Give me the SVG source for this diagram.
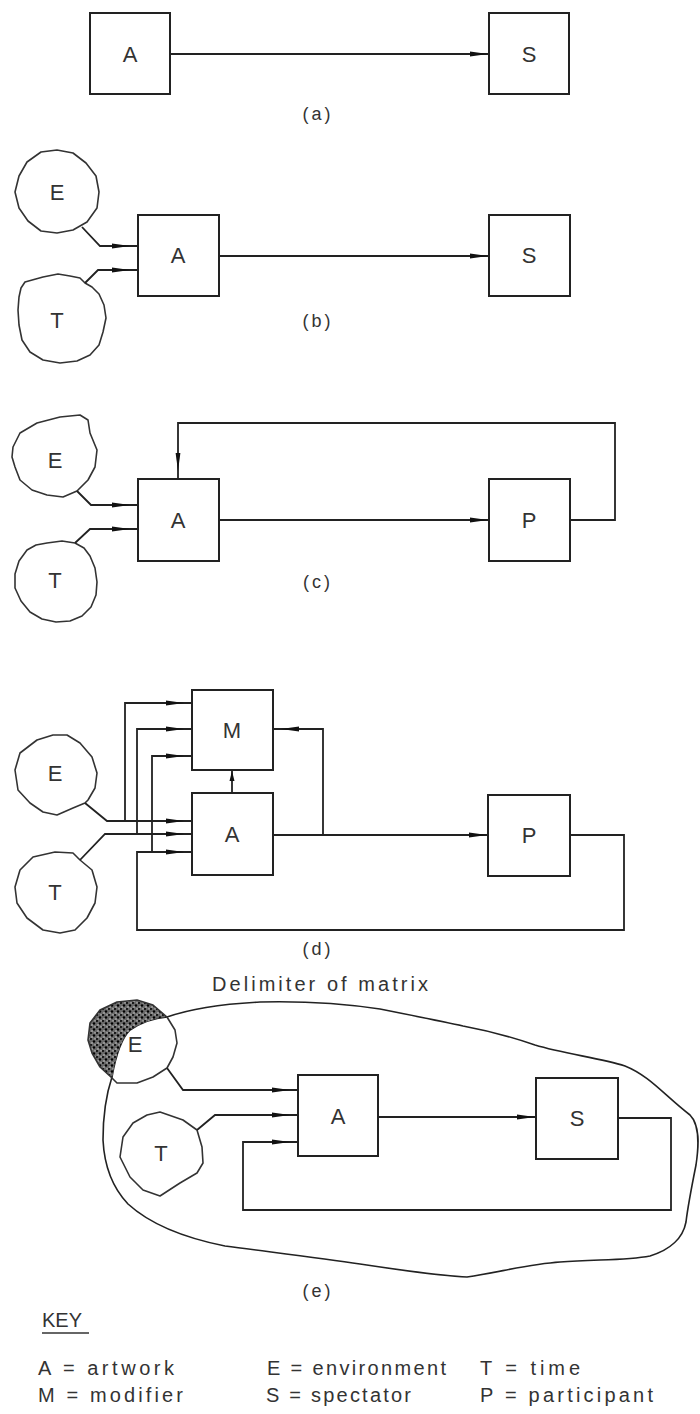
<svg xmlns="http://www.w3.org/2000/svg" width="700" height="1414" viewBox="0 0 700 1414">
<style>
.box{fill:#fff;stroke:#222;stroke-width:2}
.wire{fill:none;stroke:#222;stroke-width:1.8}
.blob{fill:none;stroke:#333;stroke-width:1.6;stroke-linejoin:round}
.lbl{font-family:"Liberation Sans",Arial,sans-serif;font-size:22px;fill:#333;text-anchor:middle}
.cap{font-family:"Liberation Sans",Arial,sans-serif;font-size:18px;fill:#333;text-anchor:middle;letter-spacing:3px}
.key{font-family:"Liberation Sans",Arial,sans-serif;font-size:20px;fill:#333}
</style>
<defs>
<marker id="ah" markerUnits="userSpaceOnUse" markerWidth="20" markerHeight="8" viewBox="0 0 20 8" refX="19" refY="4" orient="auto"><path d="M0,1.6 L18,4 L0,6.4 z" fill="#111"/></marker>
<marker id="ahg" markerUnits="userSpaceOnUse" markerWidth="30" markerHeight="8" viewBox="0 0 30 8" refX="26" refY="4" orient="auto"><path d="M0,1.6 L18,4 L0,6.4 z" fill="#111"/></marker>
<marker id="ahs" markerUnits="userSpaceOnUse" markerWidth="12" markerHeight="8" viewBox="0 0 12 8" refX="11" refY="4" orient="auto"><path d="M0,1.5 L10,4 L0,6.5 z" fill="#111"/></marker>
<pattern id="stip" width="6" height="6" patternUnits="userSpaceOnUse"><rect width="6" height="6" fill="#6a6a6a"/><circle cx="1" cy="1" r="1.1" fill="#111"/><circle cx="4" cy="3.5" r="1.2" fill="#000"/><circle cx="2" cy="5" r="0.7" fill="#ddd"/><circle cx="5" cy="0.8" r="0.6" fill="#eee"/></pattern>
</defs>

<!-- (a) -->
<g id="a-A"><rect class="box" x="90" y="13" width="80" height="81"/><text class="lbl" x="130" y="62">A</text></g>
<g id="a-S"><rect class="box" x="489" y="13" width="80" height="81"/><text class="lbl" x="529" y="62">S</text></g>
<text class="cap" x="318" y="120">(a)</text>

<!-- (b) -->
<g id="b-E"><polygon class="blob" points="99,192 97,208 87,222 73,230 57,233 41,231 28,221 19,208 15,192 19,176 27,162 41,152 57,150 73,153 86,163 96,176"/><text class="lbl" x="57" y="200">E</text></g>
<g id="b-T"><polygon class="blob" points="25,282 43,277 58,274 70,276 80,278 85,283 92,287 99,294 104,305 106,318 103,332 99,345 90,355 77,361 60,363 43,360 30,352 22,340 19,325 18,310 19,297 21,288"/><text class="lbl" x="57" y="328">T</text></g>
<g id="b-A"><rect class="box" x="138" y="215" width="81" height="81"/><text class="lbl" x="178" y="263">A</text></g>
<g id="b-S"><rect class="box" x="489" y="215" width="81" height="81"/><text class="lbl" x="529" y="263">S</text></g>
<text class="cap" x="318" y="327">(b)</text>

<!-- (c) -->
<g id="c-E"><polygon class="blob" points="13,447 20,433 37,423 60,417 80,415 88,420 90,433 97,450 95,467 88,480 77,491 63,497 47,495 32,490 20,480 15,467 12,457"/><text class="lbl" x="55" y="468">E</text></g>
<g id="c-T"><polygon class="blob" points="47,543 62,541 75,543 84,548 90,556 95,568 97,582 96,595 91,607 82,616 70,621 56,622 42,619 30,612 21,601 15,588 15,574 19,561 27,550 36,545"/><text class="lbl" x="55" y="588">T</text></g>
<g id="c-A"><rect class="box" x="138" y="479" width="81" height="82"/><text class="lbl" x="178" y="528">A</text></g>
<g id="c-P"><rect class="box" x="489" y="479" width="81" height="82"/><text class="lbl" x="529" y="528">P</text></g>
<text class="cap" x="318" y="588">(c)</text>

<!-- (d) -->
<g id="d-E"><polygon class="blob" points="15,770 20,753 37,740 53,735 67,735 80,743 92,757 97,773 95,788 88,800 85,803 73,808 57,815 43,812 30,803 18,790"/><text class="lbl" x="55" y="781">E</text></g>
<g id="d-T"><polygon class="blob" points="55,852 73,853 80,860 92,870 97,887 95,903 87,918 75,930 60,933 43,930 27,918 17,903 15,887 20,870 33,857"/><text class="lbl" x="55" y="900">T</text></g>
<g id="d-M"><rect class="box" x="192" y="690" width="81" height="80"/><text class="lbl" x="232" y="738">M</text></g>
<g id="d-A"><rect class="box" x="192" y="793" width="81" height="82"/><text class="lbl" x="232" y="842">A</text></g>
<g id="d-P"><rect class="box" x="488" y="795" width="82" height="81"/><text class="lbl" x="529" y="843">P</text></g>
<text class="cap" x="318" y="955">(d)</text>

<!-- (e) -->
<g id="e-matrix">
<path d="M167,1017 C190,1009 220,1004 260,1002 C300,1001 340,1003 380,1009 C410,1015 440,1021 463,1026 C495,1032 515,1038 535,1045 C565,1054 600,1058 625,1066 C650,1076 665,1096 690,1115 C700,1125 699,1145 696,1165 C692,1185 688,1205 686,1222 C683,1238 670,1250 650,1256 C625,1261 595,1259 560,1262 C530,1264 500,1272 467,1277 C440,1276 400,1270 360,1264 C320,1258 270,1252 225,1246 C185,1238 150,1224 128,1204 C110,1185 104,1160 103,1140 C103,1120 106,1095 112,1077 C115,1060 120,1040 130,1030 C142,1022 155,1018 167,1017 Z" fill="none" stroke="#222" stroke-width="1.6"/>
<text class="key" x="212" y="991" textLength="216" lengthAdjust="spacing">Delimiter of matrix</text>
</g>
<g id="e-E">
<path d="M167,1017 L153,1005 L137,1000 L117,1002 L100,1010 L90,1023 L88,1040 L92,1053 L100,1067 L112,1078 C115,1060 120,1040 130,1030 C142,1022 155,1018 167,1017 Z" fill="url(#stip)" stroke="none"/>
<polygon class="blob" points="137,1000 153,1005 167,1017 175,1030 177,1043 173,1057 167,1068 153,1077 137,1083 117,1083 112,1078 100,1067 92,1053 88,1040 90,1023 100,1010 117,1002"/>
<text class="lbl" x="135" y="1052">E</text>
</g>
<g id="e-T"><polygon class="blob" points="160,1112 183,1120 197,1130 202,1147 203,1163 197,1173 180,1183 160,1196 143,1190 130,1177 120,1157 123,1137 133,1123 147,1115"/><text class="lbl" x="161" y="1161">T</text></g>
<g id="e-A"><rect class="box" x="298" y="1075" width="80" height="81"/><text class="lbl" x="338" y="1124">A</text></g>
<g id="e-S"><rect class="box" x="536" y="1078" width="82" height="81"/><text class="lbl" x="577" y="1126">S</text></g>
<text class="cap" x="318" y="1297">(e)</text>

<!-- connectors -->
<g id="connectors">
<path class="wire" d="M170,54 H489" marker-end="url(#ah)"/>
<path class="wire" d="M219,256 H489" marker-end="url(#ah)"/>
<path class="wire" d="M82,227 L100,246 H138" marker-end="url(#ahg)"/>
<path class="wire" d="M85,283 L98,270 H138" marker-end="url(#ahg)"/>
<path class="wire" d="M219,520 H489" marker-end="url(#ah)"/>
<path class="wire" d="M570,520 H615 V423 H178 V479" marker-end="url(#ahg)"/>
<path class="wire" d="M77,491 L91,505 H138" marker-end="url(#ahg)"/>
<path class="wire" d="M75,543 L90,529 H138" marker-end="url(#ahg)"/>
<path class="wire" d="M85,803 L107,821 H192" marker-end="url(#ahg)"/>
<path class="wire" d="M125,821 V703 H192" marker-end="url(#ahg)"/>
<path class="wire" d="M80,860 L105,834 H192" marker-end="url(#ahg)"/>
<path class="wire" d="M137,834 V729 H192" marker-end="url(#ahg)"/>
<path class="wire" d="M570,835 H624 V930 H137 V852 H192" marker-end="url(#ahg)"/>
<path class="wire" d="M152,852 V756 H192" marker-end="url(#ahg)"/>
<path class="wire" d="M273,835 H488" marker-end="url(#ah)"/>
<path class="wire" d="M323,835 V729 H273" marker-end="url(#ahg)"/>
<path class="wire" d="M232,793 V770" marker-end="url(#ahs)"/>
<path class="wire" d="M167,1068 L183,1090 H298" marker-end="url(#ahg)"/>
<path class="wire" d="M197,1130 L215,1115 H298" marker-end="url(#ahg)"/>
<path class="wire" d="M618,1118 H671 V1210 H243 V1142 H298" marker-end="url(#ahg)"/>
<path class="wire" d="M378,1117 H536" marker-end="url(#ah)"/>
</g>

<!-- key -->
<g id="key">
<text class="key" x="42" y="1327">KEY</text>
<line x1="42" y1="1333" x2="89" y2="1333" stroke="#333" stroke-width="1.5"/>
<text class="key" x="38" y="1375" textLength="136" lengthAdjust="spacing">A = artwork</text>
<text class="key" x="267" y="1375" textLength="179" lengthAdjust="spacing">E = environment</text>
<text class="key" x="480" y="1375" textLength="100" lengthAdjust="spacing">T = time</text>
<text class="key" x="38" y="1402" textLength="145" lengthAdjust="spacing">M = modifier</text>
<text class="key" x="266" y="1402" textLength="145" lengthAdjust="spacing">S = spectator</text>
<text class="key" x="480" y="1402" textLength="173" lengthAdjust="spacing">P = participant</text>
</g>
</svg>
